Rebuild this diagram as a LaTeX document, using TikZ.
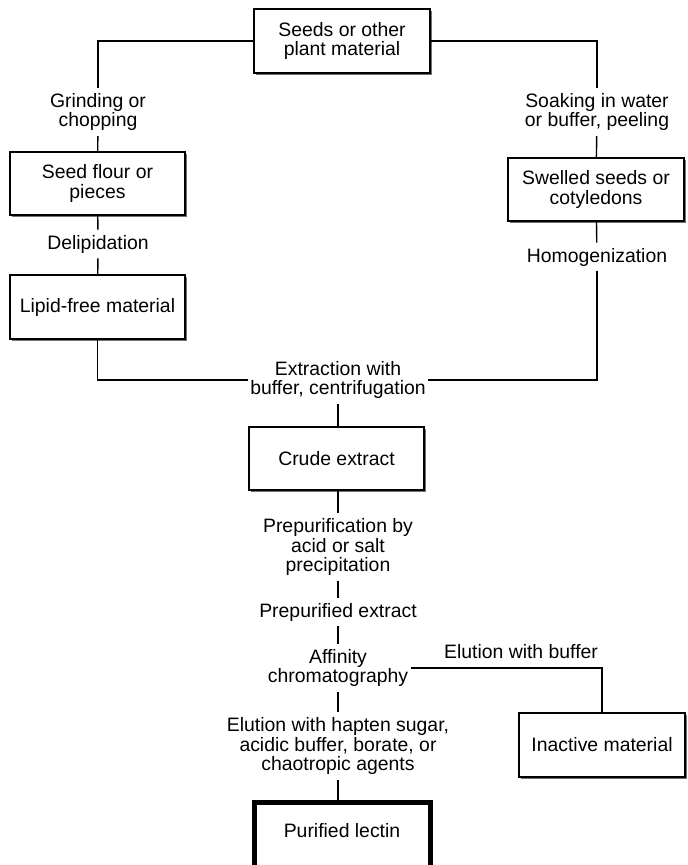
\documentclass[tikz,border=0pt]{standalone}
\usepackage{fontspec}
\setmainfont{Liberation Sans}
\usepackage{tikz}
\usetikzlibrary{shadows}

\begin{document}
\begin{tikzpicture}[x=0.5pt,y=-0.5pt]
\tikzstyle{every node}+=[font=\fontsize{9.7}{9.8}\selectfont]
\tikzstyle{box}=[draw=black,line width=1pt,fill=white,align=center,inner sep=0pt,
  drop shadow={shadow xshift=0.9pt,shadow yshift=-0.9pt,fill=black!55,opacity=1}]
\tikzstyle{lbl}=[align=center,inner xsep=1pt,inner ysep=2.5pt]
\tikzstyle{link}=[line width=0.7pt]
\clip (0,0) rectangle (687,865);
\node [box,minimum width=88pt,minimum height=32pt] (seeds) at (342,41) {Seeds or other\\plant material};
\node [box,minimum width=87.5pt,minimum height=31.5pt] (flour) at (97.5,183.5) {Seed flour or\\pieces};
\node [box,minimum width=87.5pt,minimum height=32pt] (lipid) at (97.5,307) {Lipid-free material};
\node [box,minimum width=88pt,minimum height=31.5pt] (swelled) at (596,189.5) {Swelled seeds or\\cotyledons};
\node [box,minimum width=87.5pt,minimum height=31.5pt] (crude) at (336.5,458.5) {Crude extract};
\node [box,minimum width=83pt,minimum height=32pt] (inactive) at (602,745) {Inactive material};
\node [box,line width=2.5pt,minimum width=88pt,minimum height=36pt] (purified) at (342,838) {\raisebox{1.5ex}{Purified lectin}};
\node [lbl] (grind) at (98,112) {Grinding or\\chopping};
\node [lbl] (soak) at (597,112) {Soaking in water\\or buffer, peeling};
\node [lbl] (delip) at (98,244) {Delipidation};
\node [lbl] (homog) at (597,257) {Homogenization};
\node [lbl] (extract) at (338,380) {Extraction with\\buffer, centrifugation};
\node [lbl] (prep) at (338,547) {Prepurification by\\acid or salt\\precipitation};
\node [lbl] (prepext) at (338,612) {Prepurified extract};
\node [lbl] (affinity) at (338,668) {Affinity\\chromatography};
\node [lbl] (bufflab) at (521,652) {Elution with buffer};
\node [lbl] (elute) at (338,746) {Elution with hapten sugar,\\acidic buffer, borate, or\\chaotropic agents};
% left branch
\draw [link] (seeds.west) -| (grind);
\draw [link] (grind) -- (flour);
\draw [link] (flour) -- (delip);
\draw [link] (delip) -- (lipid);
\draw [link] (lipid) |- (extract.west);
% right branch
\draw [link] (seeds.east) -| (soak);
\draw [link] (soak) -- (swelled);
\draw [link] (swelled) -- (homog);
\draw [link] (homog) |- (extract.east);
% main line
\draw [link] (extract) -- (extract |- crude.north);
\draw [link] (extract |- crude.south) -- (prep);
\draw [link] (prep) -- (prepext);
\draw [link] (prepext) -- (affinity);
\draw [link] (affinity) -- (elute);
\draw [link] (elute) -- (elute |- purified.north);
\draw [link] (affinity.east) -| (inactive.north);
\end{tikzpicture}
\end{document}
